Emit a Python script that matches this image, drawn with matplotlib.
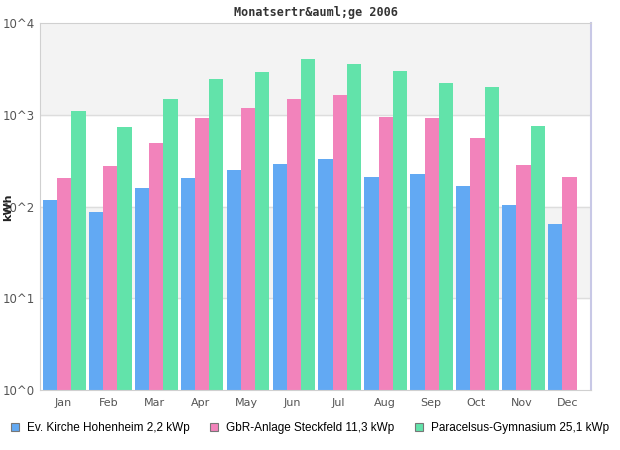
import matplotlib
matplotlib.use("Agg")
import matplotlib.pyplot as plt
from matplotlib.patches import Patch
import numpy as np

months = ["Jan", "Feb", "Mar", "Apr", "May", "Jun", "Jul", "Aug", "Sep", "Oct", "Nov", "Dec"]
series_names = ["Ev. Kirche Hohenheim 2,2 kWp", "GbR-Anlage Steckfeld 11,3 kWp",
                "Paracelsus-Gymnasium 25,1 kWp"]
kirche = [118, 87, 159, 204, 250, 292, 330, 210, 226, 167, 104, 64]
steckfeld = [204, 277, 495, 922, 1190, 1485, 1640, 945, 922, 558, 283, 210]
paracelsus = [1100, 735, 1485, 2450, 2920, 4050, 3570, 2999, 2218, 2000, 754, np.nan]
y_ticks = [1, 10, 100, 1000, 10000]
y_tick_labels = ["10^0", "10^1", "10^2", "10^3", "10^4"]

colors = ["#62a9f3", "#f283bb", "#62e3aa"]

fig = plt.figure(figsize=(6.2, 4.5), dpi=100)
ax = fig.add_axes([40 / 620, 60 / 450, 551 / 620, 367 / 450])

# alternating bands
ax.axhspan(1000, 10000, color="#f3f3f3", zorder=0)
ax.axhspan(10, 100, color="#f3f3f3", zorder=0)
for t in y_ticks[1:-1]:
    ax.axhline(t, color="#dddddd", lw=1, zorder=1)

x = np.arange(len(months))
w = 0.31
for i, vals in enumerate([kirche, steckfeld, paracelsus]):
    ax.bar(x + (i - 1) * w + 0.03, vals, width=w, color=colors[i], zorder=2, linewidth=0)

ax.set_yscale("log")
ax.set_ylim(1, 10000)
ax.set_xlim(-0.5, len(months) - 0.5)
ax.set_yticks(y_ticks)
ax.set_yticklabels(y_tick_labels)
ax.yaxis.set_minor_locator(matplotlib.ticker.NullLocator())
ax.set_xticks(x)
ax.set_xticklabels(months)
ax.tick_params(length=0, labelsize=8, colors="#555555", pad=6)
ax.tick_params(axis="y", pad=4, labelsize=8.5)

for s in ["left", "bottom", "top"]:
    ax.spines[s].set_color("#d0d0d0")
ax.spines["right"].set_color("#c8c8e6")
ax.spines["right"].set_linewidth(1.5)

ax.set_title("Monatsertr&auml;ge 2006", fontsize=8.5, fontweight="bold",
             family="DejaVu Sans Mono", color="#333333", pad=5)
fig.text(8 / 620, 1 - 207 / 450, "kWh", rotation=90, fontsize=8, fontweight="bold",
         color="#222222", ha="center", va="center")

handles = [Patch(facecolor=c, edgecolor="#777777", linewidth=0.8) for c in colors]
fig.legend(handles, series_names, loc="center", bbox_to_anchor=(0.5, 1 - 428 / 450),
           ncol=3, frameon=False, handlelength=0.7, handleheight=0.7,
           handletextpad=0.7, columnspacing=1.7, borderpad=0, borderaxespad=0,
           prop={"family": "Liberation Sans", "size": 8.5})

fig.savefig("out.png", dpi=100)
